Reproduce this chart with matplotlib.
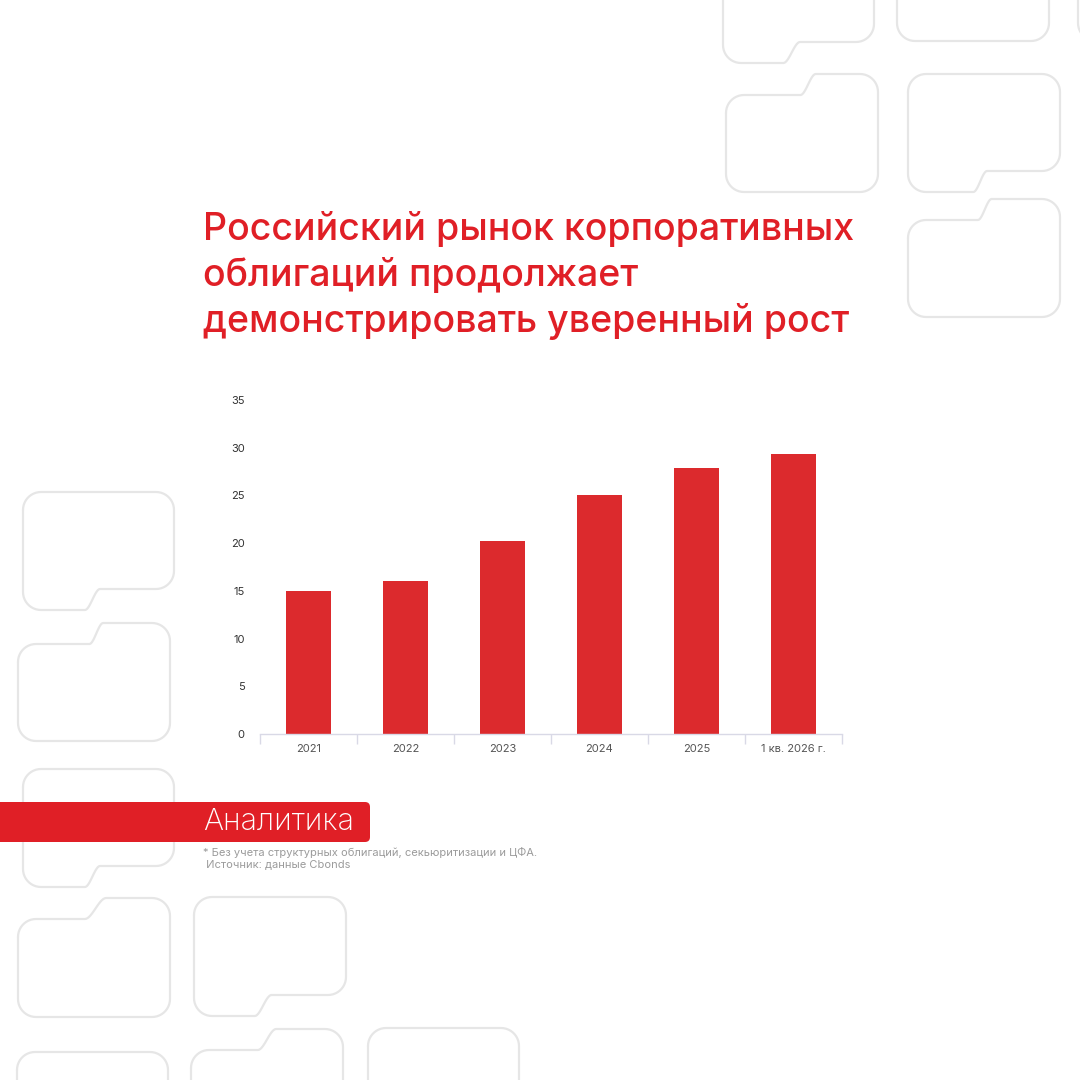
import numpy as np
import matplotlib
matplotlib.use("Agg")
import matplotlib.pyplot as plt
from matplotlib.patches import FancyBboxPatch

# данные
categories = ["2021", "2022", "2023", "2024", "2025", "1 кв. 2026 г."]
values = [15.0, 16.0, 20.2, 25.0, 27.9, 29.3]
y_ticks = [0, 5, 10, 15, 20, 25, 30, 35]

title_lines = ["Российский рынок корпоративных",
               "облигаций продолжает",
               "демонстрировать уверенный рост"]
badge = "Аналитика"
note = "* Без учета структурных облигаций, секьюритизации и ЦФА.\n Источник: данные Cbonds"

RED = "#e01f26"
BAR = "#dc2a2d"
OUTLINE = "#e6e6e6"

plt.rcParams['font.family'] = ['Inter', 'DejaVu Sans']

fig = plt.figure(figsize=(10.8, 10.8), dpi=100)
fig.patch.set_facecolor("white")

# фон с "папками", координаты в пикселях
bg = fig.add_axes([0, 0, 1, 1])
bg.set_xlim(0, 1080)
bg.set_ylim(1080, 0)
bg.axis("off")


def folder(x0, x1, ytop, ybot, tab=None, step=(0.43, 0.53), h=21, r=18):
    # tab: 'top' -> правая часть верхнего края выше, 'bottom' -> правая часть нижнего края выше
    yt_l, yt_r = ytop, ytop
    yb_l, yb_r = ybot, ybot
    if tab == "top":
        yt_l = ytop + h
    if tab == "bottom":
        yb_r = ybot - h
    sx0 = x0 + step[0] * (x1 - x0)
    sx1 = x0 + step[1] * (x1 - x0)

    def arc(cx, cy, a0, a1):
        a = np.linspace(np.radians(a0), np.radians(a1), 12)
        return list(zip(cx + r * np.cos(a), cy + r * np.sin(a)))

    def s_curve(xa, ya, xb, yb):
        t = np.linspace(0, 1, 16)
        s = t * t * (3 - 2 * t)
        return list(zip(xa + (xb - xa) * t, ya + (yb - ya) * s))

    pts = []
    pts += arc(x0 + r, yt_l + r, 180, 270)          # верх-лево
    if tab == "top":
        pts += s_curve(sx0, yt_l, sx1, yt_r)
    pts += arc(x1 - r, yt_r + r, 270, 360)          # верх-право
    pts += arc(x1 - r, yb_r - r, 0, 90)             # низ-право
    if tab == "bottom":
        pts += s_curve(sx1, yb_r, sx0, yb_l)
    pts += arc(x0 + r, yb_l - r, 90, 180)           # низ-лево
    pts.append(pts[0])
    xs, ys = zip(*pts)
    bg.plot(xs, ys, color=OUTLINE, lw=1.6, solid_capstyle="round", zorder=1)


# правый верх
folder(723, 874, -80, 63, tab="bottom", step=(0.40, 0.51))
folder(897, 1049, -80, 41)
folder(1078, 1230, -80, 41)
folder(726, 878, 74, 192, tab="top", step=(0.49, 0.59))
folder(908, 1060, 74, 192, tab="bottom", step=(0.43, 0.52))
folder(908, 1060, 199, 317, tab="top", step=(0.46, 0.55))
# левый край
folder(23, 174, 492, 610, tab="bottom", step=(0.41, 0.51))
folder(18, 170, 623, 741, tab="top", step=(0.47, 0.56))
folder(23, 174, 769, 887, tab="bottom", step=(0.41, 0.51))
folder(18, 170, 898, 1017, tab="top", step=(0.44, 0.58))
folder(194, 346, 897, 1016, tab="bottom", step=(0.40, 0.51))
folder(17, 168, 1052, 1200)
folder(191, 343, 1029, 1200, tab="top", step=(0.44, 0.56))
folder(368, 519, 1028, 1200)

# заголовок
for i, line in enumerate(title_lines):
    bg.text(203, 240 + 46 * i, line, color=RED, fontsize=27, fontweight="medium",
            ha="left", va="baseline", zorder=3)

# плашка "Аналитика"
bg.add_patch(FancyBboxPatch((-20, 802), 390, 40, boxstyle="round,pad=0,rounding_size=5",
                            facecolor=RED, edgecolor="none", zorder=3))
bg.text(203, 822, badge, color="white", fontsize=22, fontweight="light",
        ha="left", va="center", zorder=4)
bg.text(203, 847, note, color="#9b9b9b", fontsize=8, ha="left", va="top",
        linespacing=1.15, zorder=3)

# график
ax = fig.add_axes([260 / 1080, (1080 - 734) / 1080, 582 / 1080, 334 / 1080])
ax.set_facecolor("none")
x = np.arange(len(categories))
ax.bar(x, values, width=0.465, color=BAR, zorder=2)
ax.set_xlim(-0.5, len(categories) - 0.5)
ax.set_ylim(0, 35)
ax.set_yticks(y_ticks)
ax.set_xticks(x)
ax.set_xticklabels(categories)
ax.set_xticks(np.arange(len(categories) + 1) - 0.5, minor=True)
for s in ["top", "right", "left"]:
    ax.spines[s].set_visible(False)
ax.spines["bottom"].set_color("#d9d9e6")
ax.spines["bottom"].set_linewidth(1.0)
ax.tick_params(axis="y", length=0, pad=11, labelsize=8, labelcolor="#333333")
ax.tick_params(axis="x", which="major", length=0, pad=7, labelsize=8, labelcolor="#555555")
ax.tick_params(axis="x", which="minor", length=7, width=1.0, color="#d9d9e6")

fig.savefig("out.png", dpi=100, facecolor="white")
